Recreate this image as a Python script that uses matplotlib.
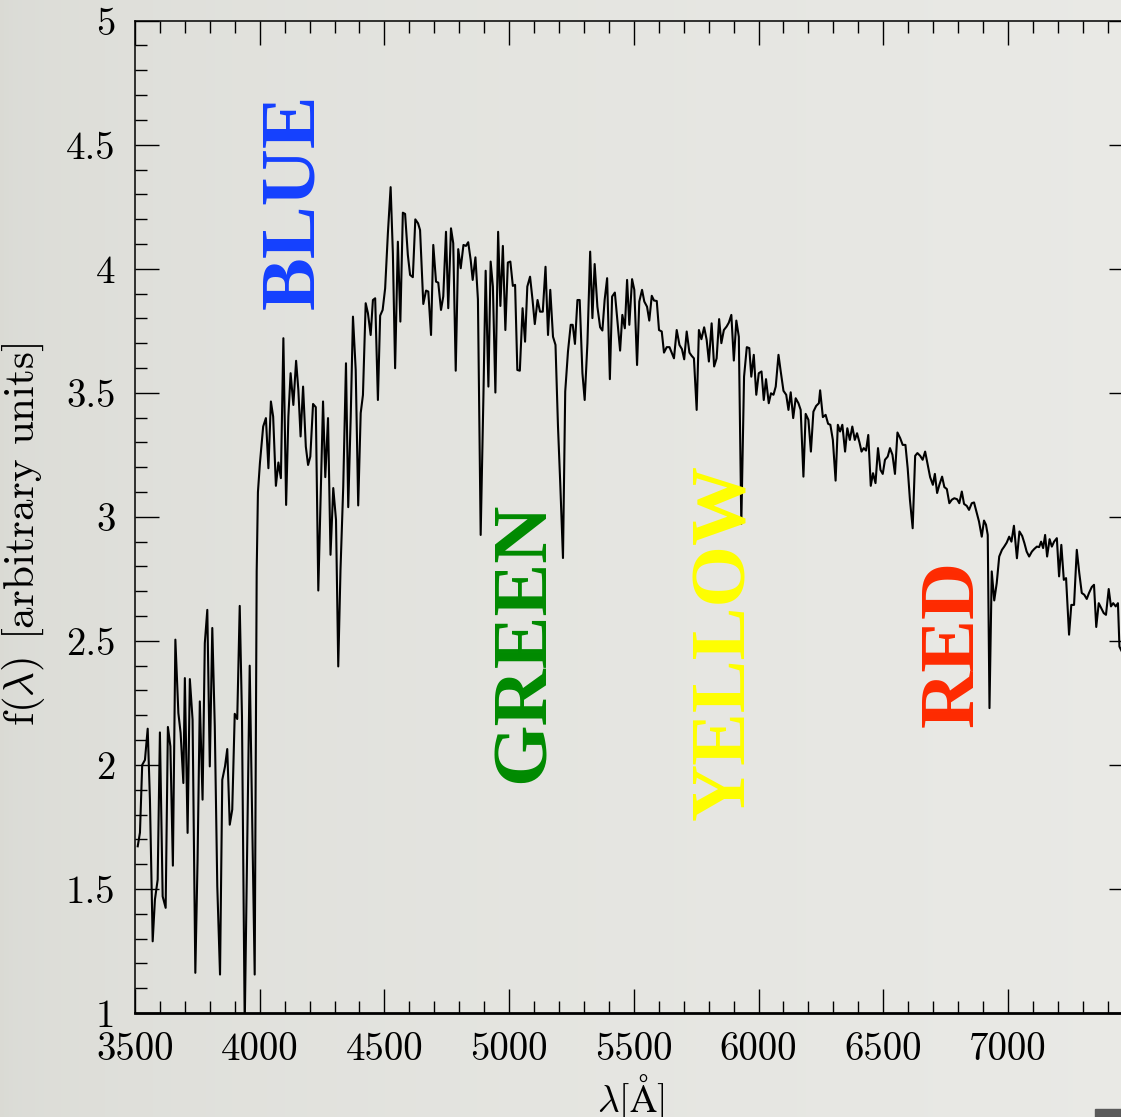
import matplotlib.pyplot as plt
import numpy as np
from matplotlib.patches import Rectangle
from matplotlib.ticker import MultipleLocator, FuncFormatter

# Espectro: longitud de onda (A) y flujo (unidades arbitrarias)
wavelength = [
    3511, 3520, 3529, 3540, 3551, 3560, 3571, 3580, 3591, 3600, 3611, 3623, 3632, 3642, 3652,
    3662, 3674, 3683, 3694, 3700, 3711, 3720, 3731, 3742, 3751, 3760, 3771, 3780, 3790, 3800,
    3810, 3820, 3830, 3841, 3850, 3861, 3870, 3880, 3890, 3900, 3910, 3920, 3929, 3940, 3960,
    3980, 3988, 3993,
    4001, 4014, 4025, 4035, 4045, 4054, 4065, 4075, 4085, 4095, 4106, 4115, 4124, 4135, 4146,
    4155, 4164, 4174, 4185, 4194, 4203, 4214, 4225, 4235, 4245, 4254, 4263, 4274, 4284, 4295,
    4306, 4315, 4324, 4335, 4346, 4355, 4365, 4374, 4385, 4395, 4405, 4414, 4425, 4434, 4445,
    4454, 4463, 4474, 4483, 4493, 4503, 4514, 4525, 4534, 4543, 4554, 4564, 4574, 4583, 4594,
    4603, 4614, 4624, 4635,
    4643, 4656, 4667, 4676, 4687, 4696, 4707, 4716, 4727, 4736, 4747, 4756, 4767, 4776, 4786,
    4796, 4806, 4817, 4827, 4836, 4846, 4854, 4865, 4875, 4886, 4897, 4906, 4917, 4926, 4935,
    4945, 4956, 4965, 4975, 4985, 4995, 5005, 5015, 5024, 5033, 5043, 5054, 5064, 5073, 5084,
    5094, 5103, 5114, 5124, 5135, 5146, 5156, 5165, 5176, 5186, 5196, 5205, 5216, 5225, 5236,
    5247, 5255, 5264, 5274, 5283, 5294, 5303, 5314, 5325, 5334, 5343, 5354, 5365, 5374, 5383,
    5393, 5404, 5413, 5424, 5434, 5445,
    5454, 5464, 5473, 5482, 5493, 5502, 5513, 5522, 5533, 5542, 5553, 5562, 5572, 5581, 5592,
    5601, 5612, 5621, 5632, 5643, 5652, 5661, 5672, 5683, 5693, 5702, 5712, 5723, 5732, 5741,
    5752, 5761, 5771, 5782, 5792, 5801, 5812, 5822, 5832, 5842, 5851, 5861, 5872, 5881, 5891,
    5901, 5911, 5921, 5931, 5942, 5953, 5963, 5971, 5981, 5991, 6001, 6012, 6021, 6030, 6041,
    6050, 6060, 6069, 6080, 6089, 6100, 6111, 6120, 6129, 6139, 6149, 6160, 6169, 6180, 6189,
    6200, 6210, 6220, 6231, 6242, 6247,
    6258, 6269, 6279, 6288, 6298, 6309, 6318, 6327, 6336, 6347, 6356, 6366, 6376, 6386, 6395,
    6405, 6413, 6422, 6431, 6440, 6450, 6459, 6469, 6479, 6489, 6498, 6507, 6518, 6527, 6537,
    6547, 6557, 6568, 6578, 6589, 6598, 6607, 6618, 6628, 6637, 6648, 6658, 6668, 6677, 6688,
    6699, 6707, 6716, 6725, 6736, 6745, 6755, 6765, 6775, 6785, 6796, 6805, 6815, 6824, 6835,
    6844, 6855, 6864, 6875, 6884, 6895, 6904, 6912, 6919, 6926, 6935, 6945, 6955, 6965, 6976,
    6985, 6995, 7005, 7014, 7024, 7036, 7046, 7057, 7066, 7075, 7085, 7096, 7105, 7116, 7125,
    7133, 7141, 7149, 7157, 7167, 7176, 7185, 7196, 7205, 7214, 7224, 7233, 7245, 7254, 7265,
    7276, 7286, 7296, 7306, 7316, 7325, 7336, 7345, 7354, 7364, 7374, 7384, 7393, 7404, 7413,
    7422, 7432, 7441, 7447, 7460,
]
flux = [
    1.672, 1.727, 2.00, 2.02, 2.146, 1.86, 1.289, 1.457, 1.537, 2.131, 1.47, 1.424, 2.153, 2.075, 1.594,
    2.505, 2.209, 2.129, 1.927, 2.35, 1.726, 2.346, 2.182, 1.162, 1.618, 2.256, 1.86, 2.491, 2.625, 1.994,
    2.552, 2.155, 1.511, 1.155, 1.94, 1.994, 2.064, 1.759, 1.82, 2.206, 2.185, 2.641, 2.195, 0.95, 2.40,
    1.155, 2.78, 3.10,
    3.217, 3.364, 3.398, 3.196, 3.465, 3.404, 3.125, 3.219, 3.156, 3.72, 3.048, 3.404, 3.579, 3.451, 3.629,
    3.512, 3.324, 3.525, 3.283, 3.209, 3.243, 3.455, 3.442, 2.703, 3.095, 3.465, 3.16, 3.398, 2.847, 3.116,
    2.988, 2.397, 2.786, 3.122, 3.619, 3.039, 3.404, 3.807, 3.592, 3.046, 3.418, 3.491, 3.861, 3.821, 3.733,
    3.874, 3.881, 3.471, 3.811, 3.834, 3.921, 4.143, 4.329, 4.062, 3.599, 4.109, 3.787, 4.226, 4.221, 4.056,
    3.975, 3.966, 4.199, 4.183,
    4.156, 3.858, 3.912, 3.908, 3.733, 4.096, 3.948, 3.944, 3.834, 3.888, 4.149, 3.841, 4.163, 4.103, 3.589,
    4.079, 4.002, 4.096, 4.092, 4.107, 4.035, 3.955, 4.046, 3.877, 2.927, 3.485, 3.992, 3.525, 4.029, 3.928,
    3.501, 4.149, 3.85, 4.092, 3.753, 4.025, 4.029, 3.931, 3.935, 3.592, 3.589, 3.841, 3.706, 3.928, 3.968,
    3.874, 3.777, 3.874, 3.827, 3.827, 4.008, 3.733, 3.915, 3.726, 3.693, 3.364, 3.136, 2.834, 3.505, 3.666,
    3.774, 3.774, 3.697, 3.874, 3.874, 3.579, 3.471, 3.70, 4.069, 3.801, 4.019, 3.847, 3.764, 3.751, 3.874,
    3.962, 3.555, 3.888, 3.904, 3.794, 3.67,
    3.814, 3.76, 3.955, 3.774, 3.958, 3.915, 3.612, 3.868, 3.915, 3.868, 3.847, 3.791, 3.891, 3.872, 3.87,
    3.753, 3.747, 3.662, 3.684, 3.684, 3.662, 3.639, 3.753, 3.693, 3.676, 3.635, 3.747, 3.662, 3.649, 3.639,
    3.431, 3.753, 3.716, 3.764, 3.714, 3.626, 3.78, 3.606, 3.639, 3.797, 3.70, 3.753, 3.767, 3.783, 3.814,
    3.63, 3.791, 3.726, 2.972, 3.565, 3.684, 3.68, 3.565, 3.653, 3.492, 3.579, 3.586, 3.471, 3.555, 3.458,
    3.498, 3.492, 3.525, 3.653, 3.586, 3.508, 3.492, 3.431, 3.502, 3.398, 3.478, 3.458, 3.431, 3.162, 3.415,
    3.391, 3.263, 3.424, 3.447, 3.458, 3.51,
    3.402, 3.411, 3.375, 3.371, 3.31, 3.146, 3.371, 3.344, 3.371, 3.263, 3.357, 3.31, 3.364, 3.31, 3.337,
    3.299, 3.263, 3.277, 3.267, 3.33, 3.125, 3.176, 3.136, 3.277, 3.189, 3.173, 3.23, 3.243, 3.277, 3.25,
    3.173, 3.34, 3.317, 3.29, 3.29, 3.196, 3.069, 2.954, 3.246, 3.257, 3.246, 3.23, 3.263, 3.216, 3.16,
    3.129, 3.173, 3.096, 3.129, 3.162, 3.12, 3.112, 3.055, 3.069, 3.075, 3.071, 3.055, 3.102, 3.052, 3.044,
    3.028, 3.055, 3.058, 3.015, 2.981, 2.92, 2.985, 2.968, 2.927, 2.229, 2.78, 2.663, 2.733, 2.84, 2.867,
    2.88, 2.896, 2.92, 2.90, 2.964, 2.833, 2.941, 2.923, 2.894, 2.86, 2.84, 2.86, 2.87, 2.88, 2.878,
    2.90, 2.874, 2.927, 2.84, 2.91, 2.88, 2.90, 2.914, 2.76, 2.887, 2.746, 2.753, 2.525, 2.645, 2.645,
    2.867, 2.773, 2.693, 2.686, 2.669, 2.693, 2.717, 2.726, 2.556, 2.652, 2.632, 2.612, 2.605, 2.709, 2.639,
    2.652, 2.639, 2.652, 2.477, 2.45,
]

# Bandas de color
bandas = ['BLUE', 'GREEN', 'YELLOW', 'RED']
colores = ['#1440ff', '#008a00', '#ffff00', '#ff2a00']

plt.rcParams['font.family'] = 'cmr10'
plt.rcParams['mathtext.fontset'] = 'cm'
plt.rcParams['axes.formatter.use_mathtext'] = True

fig = plt.figure(figsize=(11.21, 11.17), dpi=100)

# fondo gris con degradado suave
bg = fig.add_axes([0, 0, 1, 1], zorder=-1)
t = np.linspace(0, 1, 256)[None, :, None]
izq = np.array([0.855, 0.857, 0.835])
der = np.array([0.915, 0.915, 0.900])
bg.imshow(izq + (der - izq) * np.sqrt(t) * np.ones((2, 1, 1)), aspect='auto',
          extent=[0, 1, 0, 1])
bg.set_axis_off()

ax = fig.add_axes([0.1204, 0.0931, 0.890, 0.8884])
ax.patch.set_alpha(0)
ax.plot(wavelength, flux, color='black', lw=1.5)
ax.set_xlim(3500, 7500)
ax.set_ylim(1, 5)

ax.xaxis.set_major_locator(MultipleLocator(500))
ax.xaxis.set_minor_locator(MultipleLocator(100))
ax.yaxis.set_major_locator(MultipleLocator(0.5))
ax.yaxis.set_minor_locator(MultipleLocator(0.1))
ax.yaxis.set_major_formatter(FuncFormatter(lambda v, p: f'{v:g}'))
# la etiqueta 7500 queda fuera de la imagen
ax.xaxis.set_major_formatter(FuncFormatter(lambda v, p: f'{v:g}' if v < 7400 else ''))
ax.tick_params(which='both', direction='in', top=True, right=True, width=1)
ax.tick_params(which='major', length=17, labelsize=28, pad=14)
ax.tick_params(which='minor', length=8.5)
for s in ax.spines.values():
    s.set_linewidth(1.1)
ax.spines['bottom'].set_linewidth(2)

ax.set_ylabel(r'f($\lambda$) [arbitrary units]', fontsize=31)
ax.yaxis.set_label_coords(-0.088, 0.482)
ax.set_xlabel(r'$\lambda[\mathrm{\AA}]$', fontsize=27)
ax.xaxis.set_label_coords(0.4965, -0.060)

# etiquetas de colores
posiciones = [(4142, 4.273), (5064, 2.494), (5868, 2.494), (6786, 2.488)]
for nombre, color, (x, y) in zip(bandas, colores, posiciones):
    ax.text(x, y, nombre, rotation=90, ha='center', va='center', color=color,
            fontsize=57, fontweight='bold', family='Liberation Serif')

fig.patches.append(Rectangle((1095 / 1121, 0), 26 / 1121, 8 / 1117,
                             transform=fig.transFigure, color='#5a5a5a'))

fig.savefig('out.png', dpi=100)
